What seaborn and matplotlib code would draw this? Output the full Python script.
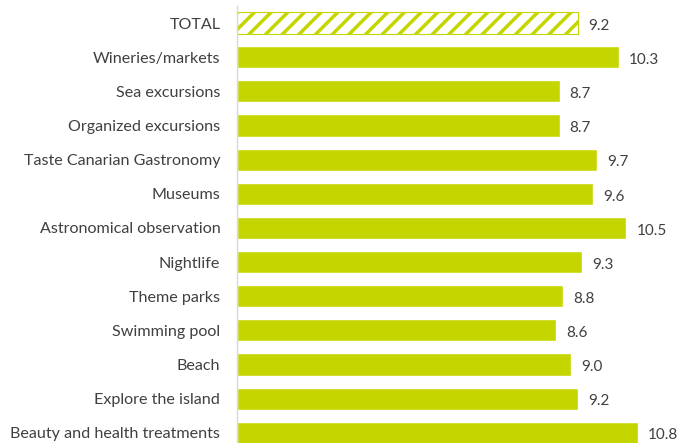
import pandas as pd
import seaborn as sns
import matplotlib.pyplot as plt

categories = ["TOTAL", "Wineries/markets", "Sea excursions", "Organized excursions",
              "Taste Canarian Gastronomy", "Museums", "Astronomical observation",
              "Nightlife", "Theme parks", "Swimming pool", "Beach",
              "Explore the island", "Beauty and health treatments"]
values = [9.2, 10.3, 8.7, 8.7, 9.7, 9.6, 10.5, 9.3, 8.8, 8.6, 9.0, 9.2, 10.8]

df = pd.DataFrame({"activity": categories, "value": values})

sns.set_style("white")
plt.rcParams['font.family'] = ['Lato', 'DejaVu Sans']
plt.rcParams['hatch.linewidth'] = 2.5
plt.rcParams['hatch.color'] = '#c5d500'

green = '#c5d500'
fig = plt.figure(figsize=(6.91, 4.43), dpi=100)
ax = fig.add_axes([237 / 691, 0, 454 / 691, 437 / 443])

sns.barplot(data=df, x="value", y="activity", color=green, width=0.65,
            saturation=1, ax=ax)

# TOTAL bar: hatched, white fill
total = ax.patches[0]
total.set_facecolor('white')
total.set_edgecolor(green)
total.set_hatch('//')
total.set_linewidth(0.8)

for i, v in enumerate(values):
    ax.text(v + 0.27, i + 0.08, f"{v:.1f}", va='center', ha='left',
            fontsize=11, color='#404040')

ax.set_xlim(0, 12.24)
ax.set_ylim(12.3, -0.5)
ax.set_xlabel("")
ax.set_ylabel("")
ax.set_xticks([])
ax.tick_params(axis='y', length=0, pad=12, labelsize=11.6, labelcolor='#404040')
for s in ['top', 'right', 'bottom']:
    ax.spines[s].set_visible(False)
ax.spines['left'].set_color('#d9d9d9')
ax.spines['left'].set_linewidth(1)

fig.savefig("out.png", dpi=100)
